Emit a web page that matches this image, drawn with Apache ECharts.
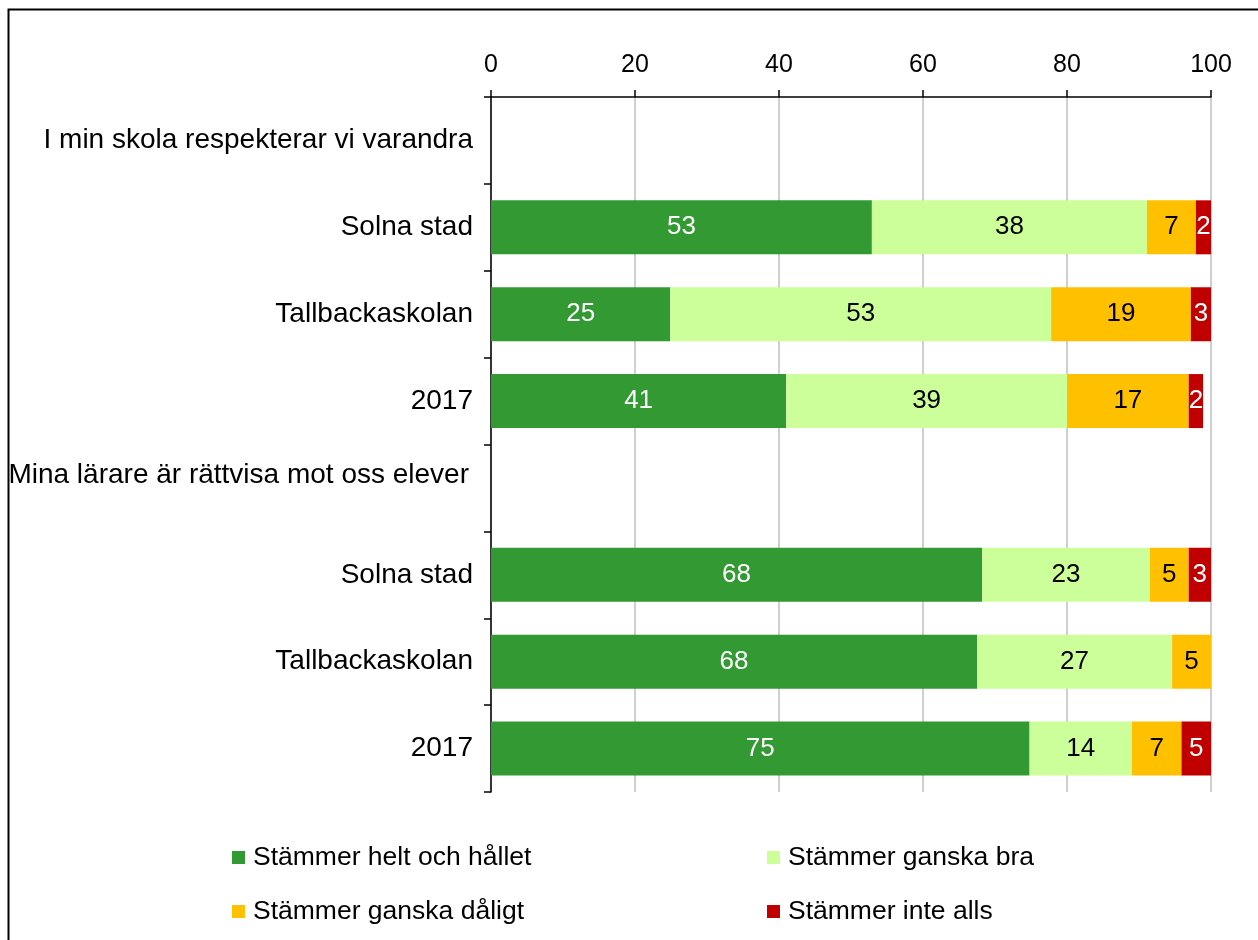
<!DOCTYPE html>
<html>
<head>
<meta charset="utf-8">
<script src="https://cdn.jsdelivr.net/npm/echarts@6/dist/echarts.min.js"></script>
<style>html,body{margin:0;padding:0;background:#fff}#c{width:1258px;height:940px}</style>
</head>
<body>
<div id="c"></div>
<script>
const categories = ['I min skola respekterar vi varandra', 'Solna stad', 'Tallbackaskolan', '2017',
  'Mina lärare är rättvisa mot oss elever', 'Solna stad', 'Tallbackaskolan', '2017'];
const seriesNames = ['Stämmer helt och hållet', 'Stämmer ganska bra', 'Stämmer ganska dåligt', 'Stämmer inte alls'];
const heltOchHallet = [null, 52.9, 24.9, 41.0, null, 68.2, 67.5, 74.8];
const ganskaBra     = [null, 38.2, 52.9, 39.0, null, 23.3, 27.1, 14.2];
const ganskaDaligt  = [null, 6.8, 19.4, 16.9, null, 5.4, 5.4, 6.9];
const inteAlls      = [null, 2.1, 2.8, 2.0, null, 3.1, null, 4.5];
const xTicks = [0, 20, 40, 60, 80, 100];

const colors = ['#339933', '#CCFF99', '#FFC000', '#C00000'];
const labelColors = ['#ffffff', '#000000', '#000000', '#ffffff'];
const values = [heltOchHallet, ganskaBra, ganskaDaligt, inteAlls];
const FONT = 'Liberation Sans, Arial, sans-serif';

const chart = echarts.init(document.getElementById('c'));
chart.setOption({
  animation: false,
  backgroundColor: '#ffffff',
  textStyle: { fontFamily: FONT },
  graphic: [{
    type: 'rect', left: 6, top: 7, z: 100,
    shape: { width: 1400, height: 1100 },
    style: { fill: 'none', stroke: '#000', lineWidth: 2 }
  }],
  grid: { left: 491, right: 47, top: 97, bottom: 148, containLabel: false },
  xAxis: {
    type: 'value', position: 'top', min: xTicks[0], max: xTicks[xTicks.length - 1], interval: 20,
    axisLine: { show: true, lineStyle: { color: '#000', width: 1.5 } },
    axisTick: { show: true, length: 7, lineStyle: { color: '#000', width: 1.5 } },
    axisLabel: { fontSize: 25, color: '#000', margin: 19, fontFamily: FONT },
    splitLine: { show: true, lineStyle: { color: '#bfbfbf', width: 1.5 } }
  },
  yAxis: {
    type: 'category', inverse: true, data: categories,
    axisLine: { show: true, lineStyle: { color: '#000', width: 1.5 } },
    axisTick: { show: true, length: 7, lineStyle: { color: '#000', width: 1.5 } },
    axisLabel: {
      fontSize: 28, color: '#000', margin: 18, fontFamily: FONT,
      formatter: function (v, i) { return i === 4 ? '{h|' + v + '}' : v; },
      rich: { h: { fontSize: 28, color: '#000', fontFamily: FONT, padding: [0, 4, 26, 0] } }
    }
  },
  legend: [
    {
      orient: 'vertical', left: 227, top: 839, itemWidth: 13, itemHeight: 13, itemGap: 27,
      icon: 'rect', data: [seriesNames[0], seriesNames[2]],
      textStyle: { fontSize: 26.5, color: '#000', fontFamily: FONT, padding: [0, 0, 0, 3] }
    },
    {
      orient: 'vertical', left: 762, top: 839, itemWidth: 13, itemHeight: 13, itemGap: 27,
      icon: 'rect', data: [seriesNames[1], seriesNames[3]],
      textStyle: { fontSize: 26.5, color: '#000', fontFamily: FONT, padding: [0, 0, 0, 3] }
    }
  ],
  series: seriesNames.map(function (name, k) {
    return {
      name: name, type: 'bar', stack: 'total', data: values[k],
      barWidth: 54,
      itemStyle: { color: colors[k] },
      label: {
        show: true, position: 'inside', fontSize: 26, color: labelColors[k], fontFamily: FONT,
        formatter: function (p) { return p.value == null ? '' : Math.round(p.value); }
      }
    };
  })
});
</script>
</body>
</html>
